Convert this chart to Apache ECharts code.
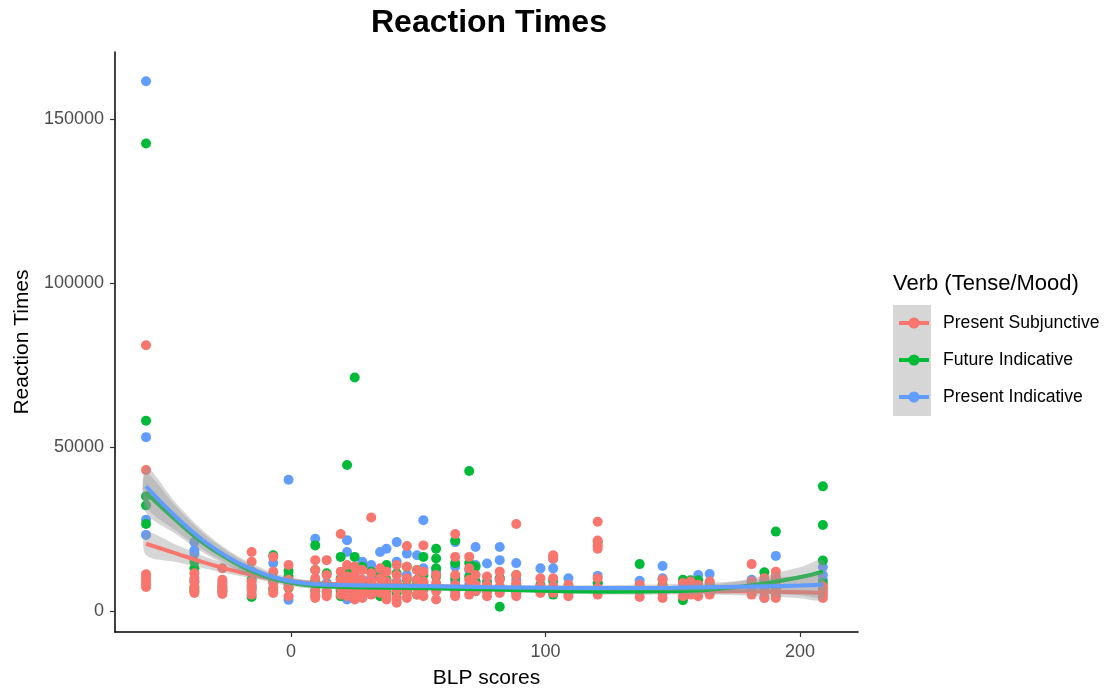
<!DOCTYPE html>
<html>
<head>
<meta charset="utf-8">
<script src="https://cdn.jsdelivr.net/npm/echarts@6/dist/echarts.min.js"></script>
<style>html,body{margin:0;padding:0;background:#fff}#c{width:1118px;height:690px}</style>
</head>
<body>
<div id="c"></div>
<script>
const seriesNames = ['Present Subjunctive', 'Future Indicative', 'Present Indicative'];
const seriesColors = ['#F8766D', '#00BA38', '#619CFF'];
const xTicks = [0, 100, 200];
const yTicks = [0, 50000, 100000, 150000];

// BLP score columns (participants)
const blpCols = [-57, -38, -27, -15.5, -7, -1, 9.5, 14, 19.5, 22, 25, 28, 31.5, 35, 37.5, 41.5, 45.5, 49.5, 52, 57,
  64.5, 70, 72.5, 77, 82, 88.5, 98, 103, 109, 120.5, 137, 146, 154, 157, 160, 164.5, 181, 186, 190.5, 209];

// reaction times per column, one list per column
const psTimes = [
  [81000, 43000, 11200, 10200, 9300, 8300, 7300],
  [11500, 10000, 9000, 7500, 6500, 5500],
  [13000, 9500, 8200, 7000, 6000, 5200],
  [18000, 15000, 9000, 7500, 6200, 5000],
  [16500, 12000, 10000, 8500, 7000, 5500],
  [14000, 9500, 7200, 4500],
  [15500, 12500, 10000, 8000, 6500, 5000, 4000],
  [15500, 11000, 8000, 6000, 4500],
  [23500, 12000, 9500, 7000, 5000],
  [14000, 10500, 8500, 6500, 4500],
  [13500, 11000, 9000, 7000, 5500, 3500],
  [12500, 9500, 7500, 5500, 4000],
  [28500, 11500, 9000, 6500, 5000],
  [13000, 10000, 7500, 5500],
  [12000, 9000, 7000, 5000, 3500],
  [14000, 11000, 8500, 6500, 4000, 2500],
  [19800, 13500, 10000, 7500, 5500, 4000],
  [12500, 9500, 7000, 5000],
  [20000, 12000, 9000, 6500, 4500],
  [11000, 8500, 6000, 3500],
  [23500, 16500, 11000, 8000, 6000, 4500],
  [16500, 13000, 9500, 7000, 5000],
  [11000, 8000, 6000],
  [10500, 8000, 6000, 4500],
  [12000, 9500, 7500, 5500],
  [26500, 11000, 8500, 6000, 4500],
  [10000, 7500, 5500],
  [17000, 16000, 10000, 7500, 5500],
  [8000, 6000, 4500],
  [27200, 21500, 20000, 19000, 10000, 7000, 5000],
  [8000, 6000, 4300],
  [9500, 7500, 5500, 4000],
  [8500, 6500, 4500],
  [9000, 7000, 5000],
  [8000, 6000, 4500],
  [9000, 7000, 5000],
  [14300, 9000, 6500, 5000],
  [10000, 8000, 6000, 4000],
  [12000, 10500, 9000, 7000, 5500, 4000],
  [7500, 6000, 5000, 4000]
];
const fiTimes = [
  [142500, 58000, 35000, 32200, 26500],
  [15000, 13000, 7000, 6000],
  [7500, 6000],
  [12000, 9500, 7000, 4300],
  [17000, 9000, 6500],
  [12200, 10500, 7000],
  [20000, 12500, 9000, 6000],
  [11500, 8000, 5500],
  [16500, 10000, 6500, 4500],
  [44500, 12000, 8000, 5500],
  [71200, 16500, 10500, 7500, 5000],
  [13500, 9000, 6500],
  [12000, 8500, 5500],
  [10500, 7000, 4500],
  [14000, 9500, 6000],
  [11500, 8000, 5500],
  [13500, 9500, 6000],
  [12500, 8500, 5000],
  [16500, 11000, 7000],
  [19000, 16000, 13000, 10500, 7500],
  [21500, 14600, 10000, 7000],
  [42700, 14600, 10500, 7000],
  [13500, 9000, 6000],
  [8500, 6000],
  [10000, 7000, 1300],
  [11000, 8000, 5500],
  [8000, 6000],
  [9500, 7000, 5000],
  [7500, 5500],
  [21000, 8500, 6500],
  [14300, 7000],
  [8000, 6000],
  [9500, 7000, 3300],
  [9400, 6500],
  [9400, 7000],
  [8000, 5500],
  [8000, 6000],
  [11800, 9000, 7000],
  [24200, 9500, 7000],
  [38000, 26200, 15400, 8500, 7000]
];
const piTimes = [
  [161500, 53000, 27800, 23200],
  [21000, 18500, 17500, 9000],
  [8800, 6500],
  [8000],
  [14600, 9500],
  [40000, 8000, 3400],
  [22000, 9000, 4500],
  [8500, 6000],
  [9000, 6000],
  [21600, 18000, 11000, 3500],
  [13500, 8000],
  [15000, 9500, 6000],
  [14000, 10000],
  [18000, 12000, 7000],
  [19000, 13500, 8000],
  [21000, 15000, 9000],
  [17500, 11000, 6500],
  [17000, 9500],
  [27700, 13000, 8500],
  [12000, 7000],
  [21000, 13500, 9000, 5000],
  [12500, 8000],
  [19500, 14000, 9000, 6000],
  [14500, 9000],
  [19500, 15500, 10000, 6000],
  [14600, 9500, 6000],
  [13000, 7000],
  [15900, 13000, 9000],
  [10000, 6500],
  [10700, 8500],
  [9200, 6500],
  [13700, 10000, 7000],
  [8500],
  [7500],
  [11000, 8000],
  [11300, 8500],
  [9500, 7000],
  [8000, 4000],
  [16800, 10000, 4500],
  [13400, 11000, 9500]
];

// smoothed fits
const fitX = [-57, -45, -35, -25, -15, -5, 5, 15, 30, 50, 75, 100, 125, 150, 175, 200, 209];
const psFit = [20500, 17500, 15000, 12800, 11000, 9600, 8700, 8200, 8000, 7700, 7100, 6600, 6300, 6100, 6000, 5700, 5500];
const psLo  = [17000, 14900, 13100, 11400, 9900, 8700, 7900, 7500, 7350, 7050, 6450, 5900, 5500, 5200, 4800, 3900, 3300];
const psHi  = [24000, 20100, 16900, 14200, 12100, 10500, 9500, 8900, 8650, 8350, 7750, 7300, 7100, 7000, 7200, 7500, 7700];
const fiFit = [36000, 27500, 21000, 16000, 12000, 9400, 8000, 7500, 7200, 7000, 6600, 6200, 5900, 6100, 7300, 10300, 12000];
const fiLo  = [30000, 23300, 18000, 13800, 10300, 8200, 7000, 6700, 6500, 6300, 5900, 5450, 5050, 5000, 5600, 7300, 8400];
const fiHi  = [42000, 31700, 24000, 18200, 13700, 10600, 9000, 8300, 7900, 7700, 7300, 6950, 6750, 7200, 9000, 13300, 15600];
const piFit = [38000, 28500, 21800, 16500, 12600, 9900, 8500, 8000, 7800, 7600, 7300, 7100, 7000, 7100, 7400, 7800, 8000];
const piLo  = [32000, 24300, 18800, 14300, 10900, 8700, 7500, 7200, 7100, 6900, 6600, 6350, 6150, 6000, 5700, 4800, 4400];
const piHi  = [44000, 32700, 24800, 18700, 14300, 11100, 9500, 8800, 8500, 8300, 8000, 7850, 7850, 8200, 9100, 10800, 11600];

const FONT = '"Liberation Sans", Arial, Helvetica, sans-serif';

function toPoints(times) {
  const out = [];
  times.forEach((col, i) => col.forEach(v => out.push([blpCols[i], v])));
  return out;
}
function fitLine(name, fit, color, z) {
  return {
    type: 'line', name: name, z: z, smooth: true, symbol: 'circle', symbolSize: 9, showSymbol: false,
    data: fitX.map((x, i) => [x, fit[i]]),
    lineStyle: { color: color, width: 4 }, itemStyle: { color: color },
    emphasis: { disabled: true }, silent: true
  };
}
function band(lo, hi, z) {
  const rows = fitX.map((x, i) => [x, lo[i], hi[i]]);
  return {
    type: 'custom', name: 'band', z: z, silent: true,
    data: rows, encode: { x: 0, y: [1, 2] },
    renderItem: function (params, api) {
      if (params.dataIndex !== 0) return null;
      const pts = [];
      for (let i = 0; i < rows.length; i++) pts.push(api.coord([rows[i][0], rows[i][2]]));
      for (let i = rows.length - 1; i >= 0; i--) pts.push(api.coord([rows[i][0], rows[i][1]]));
      return { type: 'polygon', shape: { points: pts, smooth: 0.3 }, style: { fill: 'rgba(153,153,153,0.4)' } };
    }
  };
}
function scatter(name, times, color) {
  return {
    type: 'scatter', name: name, z: 2, symbolSize: 10, data: toPoints(times),
    itemStyle: { color: color, opacity: 1 }, emphasis: { disabled: true }
  };
}

const chart = echarts.init(document.getElementById('c'), null, { renderer: 'canvas' });
chart.setOption({
  animation: false,
  backgroundColor: '#fff',
  textStyle: { fontFamily: FONT },
  title: {
    text: 'Reaction Times', left: 366, top: 2,
    textStyle: { fontFamily: FONT, fontSize: 32, fontWeight: 'bold', color: '#000' }
  },
  grid: { left: 115, right: 260, top: 52, bottom: 58, containLabel: false, outerBoundsMode: 'none' },
  legend: {
    data: seriesNames, orient: 'vertical', left: 897, top: 314, padding: 0,
    itemWidth: 30, itemHeight: 14, itemGap: 19,
    lineStyle: { width: 4 },
    textStyle: { fontFamily: FONT, fontSize: 17.6, color: '#000', padding: [0, 0, 0, 9] }
  },
  graphic: [
    { type: 'rect', left: 893, top: 305, z: -1, shape: { width: 38, height: 111 }, style: { fill: '#d6d6d6' } },
    { type: 'text', left: 893, top: 273, style: { text: 'Verb (Tense/Mood)', font: '22px ' + FONT, fill: '#000' } }
  ],
  xAxis: {
    type: 'value', min: -69.2, max: 222.8,
    name: 'BLP scores', nameLocation: 'middle', nameGap: 36,
    nameTextStyle: { fontFamily: FONT, fontSize: 21, color: '#000' },
    splitLine: { show: false },
    axisLine: { onZero: false, lineStyle: { color: '#000', width: 1.5 } },
    axisTick: { customValues: xTicks, length: 5, lineStyle: { color: '#333', width: 1.2 } },
    axisLabel: { customValues: xTicks, color: '#4d4d4d', fontSize: 18, fontFamily: FONT, margin: 11,
      formatter: v => String(v) }
  },
  yAxis: {
    type: 'value', min: -6400, max: 170400,
    name: 'Reaction Times', nameLocation: 'middle', nameGap: 82, nameRotate: 90,
    nameTextStyle: { fontFamily: FONT, fontSize: 21, color: '#000' },
    splitLine: { show: false },
    axisLine: { onZero: false, lineStyle: { color: '#000', width: 1.5 } },
    axisTick: { customValues: yTicks, length: 5, lineStyle: { color: '#333', width: 1.2 } },
    axisLabel: { customValues: yTicks, color: '#4d4d4d', fontSize: 18, fontFamily: FONT, margin: 11,
      formatter: v => String(v) }
  },
  series: [
    fitLine(seriesNames[0], psFit, seriesColors[0], 4),
    fitLine(seriesNames[1], fiFit, seriesColors[1], 6),
    fitLine(seriesNames[2], piFit, seriesColors[2], 8),
    scatter(seriesNames[2], piTimes, seriesColors[2]),
    scatter(seriesNames[1], fiTimes, seriesColors[1]),
    scatter(seriesNames[0], psTimes, seriesColors[0]),
    band(psLo, psHi, 3),
    band(fiLo, fiHi, 5),
    band(piLo, piHi, 7)
  ]
});
</script>
</body>
</html>
